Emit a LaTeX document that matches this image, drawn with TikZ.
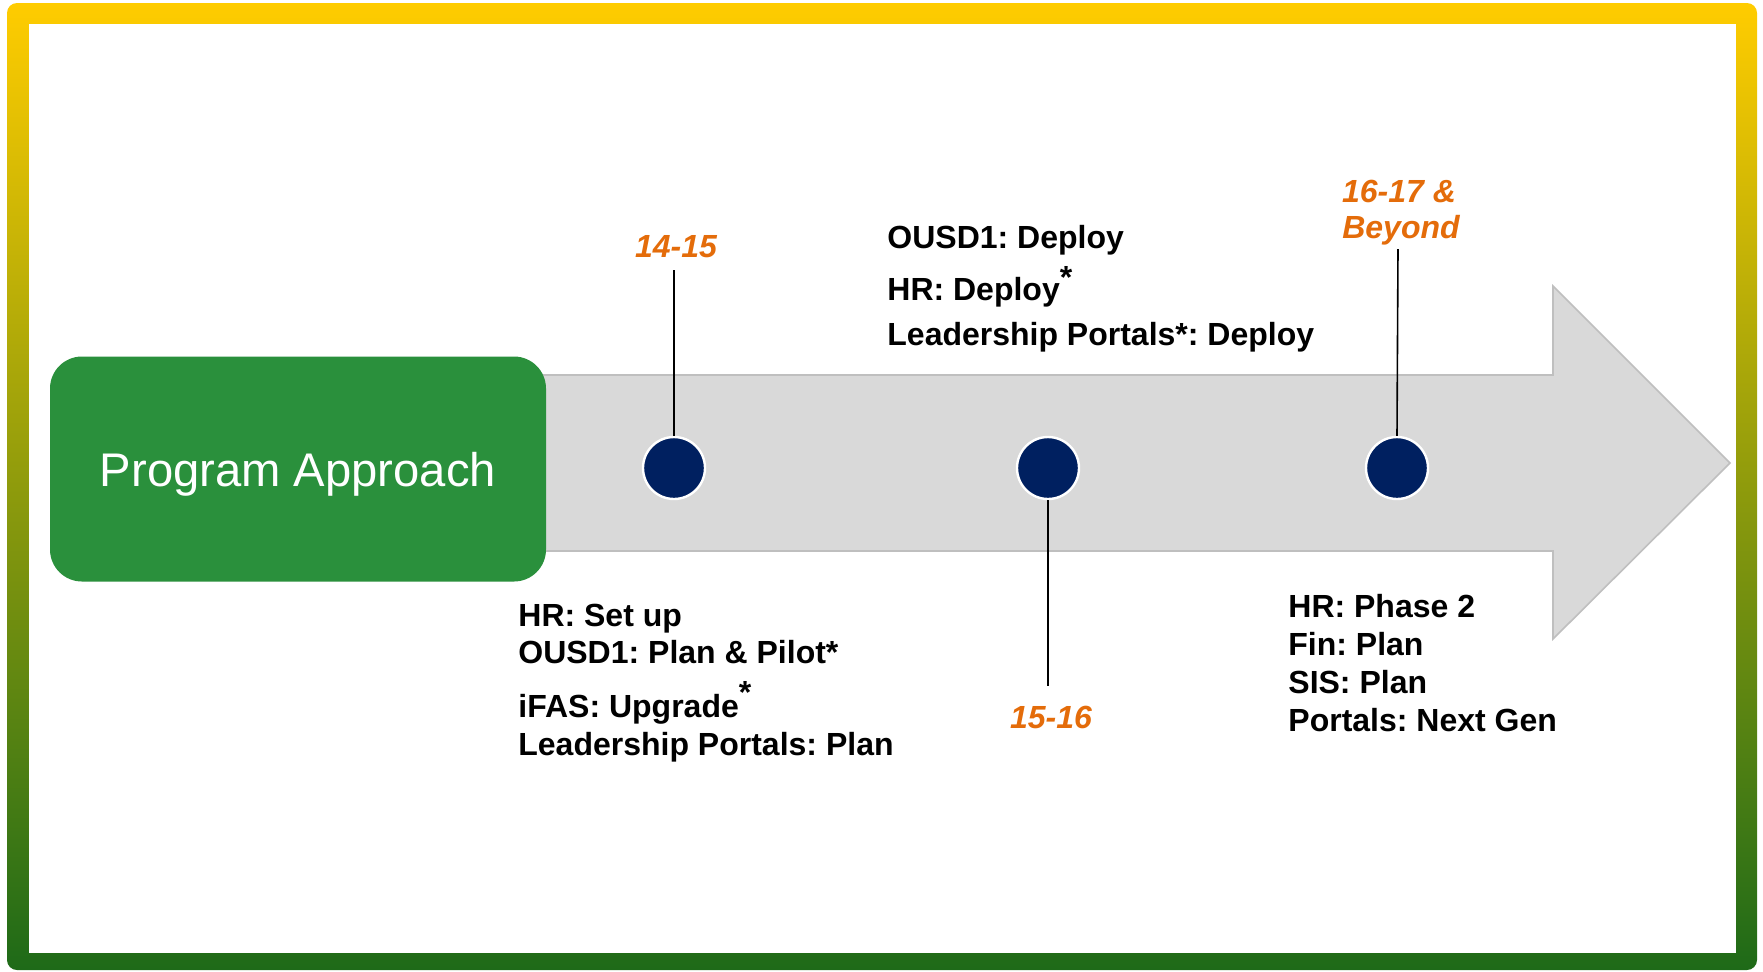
\documentclass[tikz,border=0pt]{standalone}
\usepackage{fontspec}
\setmainfont{Liberation Sans}
\frenchspacing
\definecolor{frametop}{HTML}{FFCC00}
\definecolor{framemid}{HTML}{A4C074}
\definecolor{framebot}{HTML}{1E6A18}
\definecolor{arrowgray}{HTML}{D9D9D9}
\definecolor{arrowedge}{HTML}{BFBFBF}
\definecolor{boxgreen}{HTML}{2A903C}
\definecolor{navy}{HTML}{002060}
\definecolor{orange1}{HTML}{E46C0A}
\begin{document}
\begin{tikzpicture}[x=0.5pt,y=-0.5pt,
  lbl/.style={anchor=base west, inner sep=0pt, font=\fontsize{16}{19}\selectfont\bfseries},
  yr/.style={anchor=base, inner sep=0pt, text=orange1, font=\fontsize{16}{19}\selectfont\bfseries\itshape},
  dot/.style={circle, fill=navy, draw=white, line width=1.2pt, minimum size=31pt, inner sep=0pt},
  tick/.style={draw=black, line width=0.8pt}]
\useasboundingbox (0,0) rectangle (1763,971);
% frame
\shade[top color=frametop, middle color=framemid, bottom color=framebot, rounded corners=5pt] (7,3) rectangle (1757,970);
\fill[white] (29,24) rectangle (1736,953);
% big arrow
\draw[fill=arrowgray, draw=arrowedge, line width=0.8pt]
  (300,375) -- (1553,375) -- (1553,286) -- (1730,463) -- (1553,639) -- (1553,551) -- (300,551) -- cycle;
% program box
\node[fill=boxgreen, rounded corners=16pt, minimum width=248pt, minimum height=112.5pt, inner sep=0pt,
      text depth=0pt, text=white, font=\fontsize{23.6}{28}\selectfont] (box) at (298,469) {Program Approach};
% milestones
\node[dot] (d1) at (674,468) {};
\node[dot] (d2) at (1048,468) {};
\node[dot] (d3) at (1397,468) {};
\coordinate (t1) at (674,270);
\coordinate (t2) at (1048,686);
\coordinate (t3) at (1398,249);
\draw[tick] (d1.north) -- (t1);
\draw[tick] (d2.south) -- (t2);
\draw[tick] (d3.north) -- (t3);
\node[yr] (y1) at (676,257) {14-15};
\node[yr] (y2) at (1051,728) {15-16};
\node[yr] (y3a) at (1399,202) {16-17 \&};
\node[yr] (y3b) at (1401,238) {Beyond};
% top middle text
\node[lbl] (m1) at (887,248) {OUSD1: Deploy};
\node[lbl] (m2) at (887,300) {HR: Deploy\raisebox{6pt}{*}};
\node[lbl] (m3) at (887,345) {Leadership Portals*: Deploy};
% bottom left text
\node[lbl] (l1) at (518,626) {HR: Set up};
\node[lbl] (l2) at (518,663) {OUSD1: Plan \& Pilot*};
\node[lbl] (l3) at (518,717) {iFAS: Upgrade\raisebox{7pt}{*}};
\node[lbl] (l4) at (518,755) {Leadership Portals: Plan};
% bottom right text
\node[lbl] (r1) at (1288,617) {HR: Phase 2};
\node[lbl] (r2) at (1288,655) {Fin: Plan};
\node[lbl] (r3) at (1288,693) {SIS: Plan};
\node[lbl] (r4) at (1288,731) {Portals: Next Gen};
\end{tikzpicture}
\end{document}
